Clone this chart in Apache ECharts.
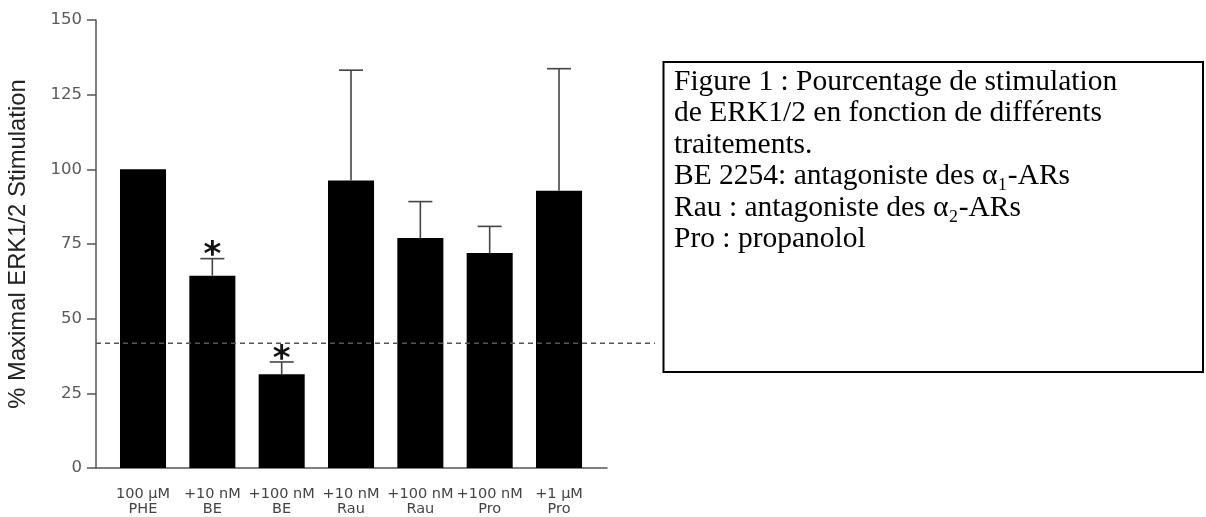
<!DOCTYPE html>
<html>
<head>
<meta charset="utf-8">
<script src="https://cdn.jsdelivr.net/npm/echarts@6/dist/echarts.min.js"></script>
<style>html,body{margin:0;padding:0;background:#fff;}#c{width:1206px;height:517px;}</style>
</head>
<body>
<div id="c"></div>
<script>
// ---- data ----
const categories = ['100 µM\nPHE', '+10 nM\nBE', '+100 nM\nBE', '+10 nM\nRau', '+100 nM\nRau', '+100 nM\nPro', '+1 µM\nPro'];
const means = [100, 64.4, 31.4, 96.3, 77.0, 72.0, 92.8];
const upperErr = [null, 70.1, 35.5, 133.2, 89.2, 80.9, 133.7];
const significance = ['', '*', '*', '', '', '', ''];
const threshold = 41.8;
const yTicks = [0, 25, 50, 75, 100, 125, 150];
const boxLines = [
  'Figure 1 : Pourcentage de stimulation',
  'de ERK1/2 en fonction de différents',
  'traitements.',
  'BE 2254: antagoniste des α₁-ARs',
  'Rau : antagoniste des α₂-ARs',
  'Pro : propanolol'
];

// ---- layout ----
const xMin = -0.678, xMax = 6.692, dashEnd = 7.385;
const barW = 0.664; // bar width in category units
const chart = echarts.init(document.getElementById('c'), null, {renderer: 'canvas'});
const axisColor = '#555';

const option = {
  animation: false,
  backgroundColor: '#fff',
  grid: {left: 96, right: 599, top: 20, bottom: 49, containLabel: false},
  xAxis: {
    type: 'value', min: xMin, max: xMax,
    splitLine: {show: false},
    axisLine: {show: true, onZero: false, lineStyle: {color: axisColor, width: 1.5}},
    axisTick: {show: false},
    axisLabel: {
      customValues: categories.map((c, i) => i),
      formatter: v => categories[Math.round(v)] || '',
      margin: 18, color: '#444', fontFamily: 'DejaVu Sans', fontSize: 14.5, lineHeight: 15.5
    }
  },
  yAxis: {
    type: 'value', min: yTicks[0], max: yTicks[yTicks.length - 1], interval: 25,
    name: '% Maximal ERK1/2 Stimulation', nameLocation: 'middle', nameRotate: 90, nameGap: 66,
    nameTextStyle: {fontFamily: 'Liberation Sans', fontSize: 23.8, color: '#222'},
    splitLine: {show: false},
    axisLine: {show: true, onZero: false, lineStyle: {color: axisColor, width: 1.5}},
    axisTick: {show: true, length: 9, lineStyle: {color: axisColor, width: 1.5}},
    axisLabel: {margin: 14, color: '#5a5a5a', fontFamily: 'DejaVu Sans', fontSize: 16.5}
  },
  series: [
    {
      type: 'custom', z: 2,
      data: means.map((v, i) => [i, v]),
      renderItem: function (params, api) {
        const i = api.value(0), v = api.value(1);
        const pTop = api.coord([i - barW / 2, v]);
        const pBot = api.coord([i + barW / 2, 0]);
        return {type: 'rect', shape: {x: pTop[0], y: pTop[1], width: pBot[0] - pTop[0], height: pBot[1] - pTop[1]},
          style: {fill: '#000'}};
      }
    },
    {
      type: 'custom', clip: false, z: 3,
      data: means.map((v, i) => [i, v]),
      renderItem: function (params, api) {
        const i = api.value(0), m = api.value(1), u = upperErr[params.dataIndex];
        const children = [];
        if (u != null) {
          const p0 = api.coord([i, m]), p1 = api.coord([i, u]);
          const st = {stroke: '#444', lineWidth: 1.6};
          children.push({type: 'line', shape: {x1: p0[0], y1: p0[1], x2: p1[0], y2: p1[1]}, style: st});
          children.push({type: 'line', shape: {x1: p1[0] - 12, y1: p1[1], x2: p1[0] + 12, y2: p1[1]}, style: st});
          const s = significance[params.dataIndex];
          if (s) {
            children.push({type: 'text', style: {text: s, x: p1[0], y: p1[1] + 15, align: 'center', verticalAlign: 'bottom',
              fontFamily: 'DejaVu Sans', fontWeight: 'bold', fontSize: 34, fill: '#111'}});
          }
        }
        return {type: 'group', children: children};
      }
    },
    {
      type: 'custom', clip: false, z: 4,
      data: [[0, threshold]],
      renderItem: function (params, api) {
        const p0 = api.coord([xMin, api.value(1)]), p1 = api.coord([dashEnd, api.value(1)]);
        return {type: 'line', shape: {x1: p0[0], y1: p0[1], x2: p1[0], y2: p1[1]},
          style: {stroke: '#555', lineWidth: 1.5, lineDash: [5, 4]}};
      }
    }
  ],
  graphic: [
    {type: 'rect', shape: {x: 663.5, y: 62, width: 539.5, height: 310}, style: {fill: '#fff', stroke: '#000', lineWidth: 2}, z: 10},
    {type: 'text', x: 674, y: 66, z: 11, style: {text: boxLines.join('\n'), fontFamily: 'Liberation Serif', fontSize: 29.5, lineHeight: 31.5, fill: '#000'}}
  ]
};
chart.setOption(option);
</script>
</body>
</html>
